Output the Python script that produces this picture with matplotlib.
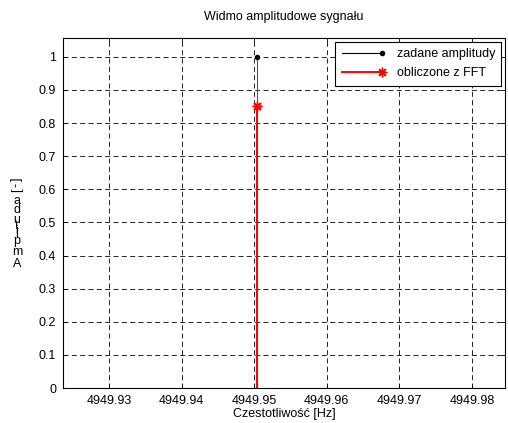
import matplotlib

matplotlib.use("Agg")
import matplotlib.pyplot as plt
from matplotlib.legend_handler import HandlerLine2D

plt.rcParams["font.family"] = ["Liberation Sans", "DejaVu Sans"]
plt.rcParams["font.size"] = 9

# set amplitude vs amplitude recovered from the FFT
freq_set = [4949.9504]
amp_set = [1.0]
freq_fft = [4949.9504]
amp_fft = [0.853]

x_ticks = [4949.93, 4949.94, 4949.95, 4949.96, 4949.97, 4949.98]
y_ticks = [0, 0.1, 0.2, 0.3, 0.4, 0.5, 0.6, 0.7, 0.8, 0.9, 1]
y_label = "Amplituda [-]"

ASTERISK = (8, 2, 0)


class MarkerAtEnd(HandlerLine2D):
    """Legend entry: full-length line with the marker at its right end."""

    def create_artists(self, legend, orig_handle, xdescent, ydescent,
                       width, height, fontsize, trans):
        artists = super().create_artists(legend, orig_handle, xdescent, ydescent,
                                         width, height, fontsize, trans)
        line = artists[0]
        y = (height - ydescent) / 2
        line.set_xdata([-xdescent, width - xdescent - 3])
        line.set_ydata([y, y])
        line.set_markevery([1])
        return [line]


fig = plt.figure(figsize=(5.08, 4.23), dpi=100)
ax = fig.add_axes([63 / 508, 35 / 423, 442 / 508, 350 / 423])

ml, sl, bl = ax.stem(freq_set, amp_set, linefmt="k-", markerfmt="k.", basefmt="k-")
sl.set_linewidth(0.8)
sl.set_color("#555555")
ml.set_markersize(6)
bl.set_linewidth(2.2)

ml2, sl2, bl2 = ax.stem(freq_fft, amp_fft, linefmt="r-", markerfmt="r", basefmt="k-")
ml2.set_marker(ASTERISK)
ml2.set_markersize(7)
ml2.set_markeredgewidth(1.0)
sl2.set_linewidth(1.4)
bl2.set_linewidth(2.2)

ax.set_xlim(4949.92366, 4949.98455)
ax.set_ylim(0, 1.057)
ax.set_xticks(x_ticks)
ax.set_xticklabels([f"{v:.2f}" for v in x_ticks])
ax.set_yticks(y_ticks)
ax.set_yticklabels([f"{v:g}" for v in y_ticks])
ax.tick_params(direction="in", length=3, width=0.6, pad=5, top=True, right=True)
ax.grid(True, color="black", linestyle=(0, (6, 4)), linewidth=0.6)
for s in ax.spines.values():
    s.set_linewidth(0.8)

ax.set_title("Widmo amplitudowe sygnału", fontsize=9, pad=13)
ax.set_xlabel("Czestotliwość [Hz]", fontsize=9, labelpad=1)

# y label: upright glyphs stacked bottom to top
widths = [0.667, 0.833, 0.556, 0.222, 0.222, 0.278, 0.556, 0.556, 0.556,
          0.278, 0.278, 0.333, 0.278]
y = 270
for ch, w in zip(y_label, widths):
    step = w * 16.5
    fig.text(17 / 508, (423 - (y - step / 2)) / 423, ch, ha="center", va="center",
             fontsize=9, rotation=0 if ch not in "[-]" else 90)
    y -= step

handles = [
    plt.Line2D([], [], color="black", linewidth=0.8, marker=".", markersize=6),
    plt.Line2D([], [], color="red", linewidth=1.4, marker=ASTERISK, markersize=7,
               markeredgewidth=1.0),
]
leg = ax.legend(handles, ["zadane amplitudy", "obliczone z FFT"], loc="upper right",
                fancybox=False, framealpha=1, edgecolor="black", fontsize=9,
                handlelength=3.6, handletextpad=0.8, borderpad=0.5,
                borderaxespad=0.3, labelspacing=0.6,
                handler_map={plt.Line2D: MarkerAtEnd()})
leg.get_frame().set_linewidth(0.8)

fig.savefig("out.png", dpi=100)
